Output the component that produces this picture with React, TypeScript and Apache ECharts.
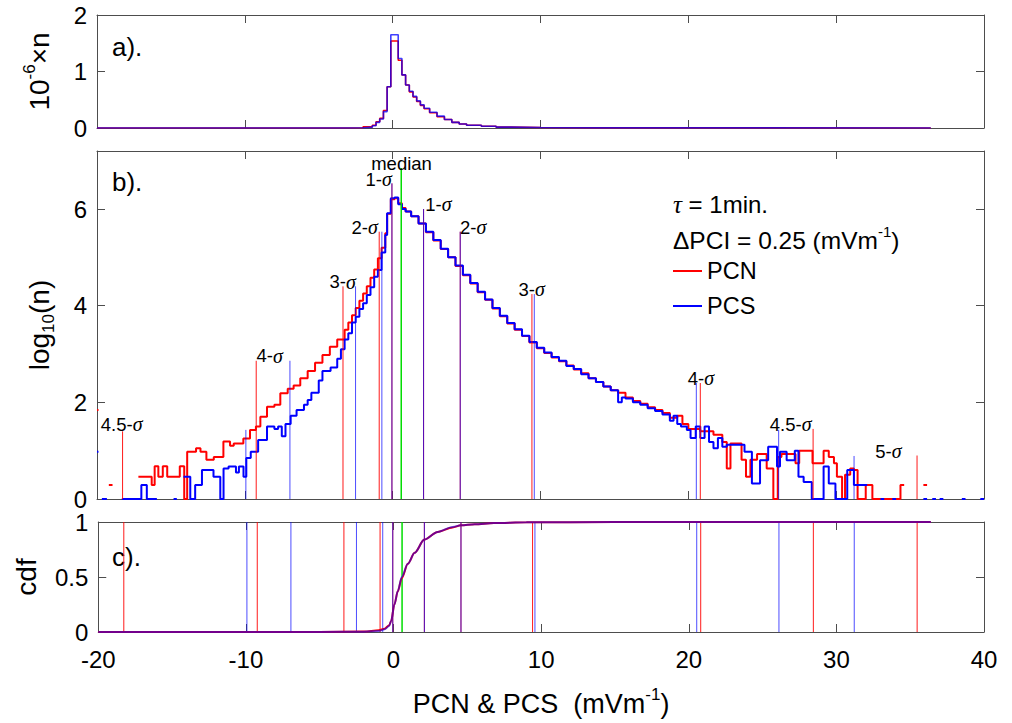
import React, { useEffect, useRef } from 'react';
import * as echarts from 'echarts';

const FONT = "'Liberation Sans', Arial, Helvetica, sans-serif";
const GREEK = "'Liberation Serif', 'DejaVu Serif', serif";
const RED = '#ff0000';
const BLUE = '#0000ff';
const GREEN = '#00dd00';
const AXIS = '#4d4d4d';
const TXT = '#000000';

// x axis
const xMin = -20;
const xMax = 40;
const xStep = 10;

// ---- panel a: 10^-6 x n (bin left edge, value); null = end / gap
const pcnLinBins: [number, number | null][] = [
  [-20, 0], [-3.0, 0.005], [-2.0, 0.02], [-1.375, 0.05], [-1.125, 0.11], [-0.875, 0.17],
  [-0.625, 0.31], [-0.375, 0.73], [-0.125, 1.54], [0.375, 1.2], [0.625, 0.94], [0.875, 0.76],
  [1.125, 0.64], [1.375, 0.55], [1.625, 0.47], [1.875, 0.4], [2.125, 0.34], [2.5, 0.27],
  [3.0, 0.2], [3.5, 0.15], [4.0, 0.1], [4.5, 0.07], [5.0, 0.05], [6.0, 0.03], [7.0, 0.015],
  [8.0, 0.008], [10.0, 0.003], [14.0, 0], [36.4, null],
];
const pcsLinBins: [number, number | null][] = [
  [-20, 0], [-3.0, 0.004], [-2.0, 0.015], [-1.375, 0.04], [-1.125, 0.1], [-0.875, 0.16],
  [-0.625, 0.29], [-0.375, 0.73], [-0.125, 1.65], [0.375, 1.23], [0.625, 0.94], [0.875, 0.76],
  [1.125, 0.65], [1.375, 0.56], [1.625, 0.48], [1.875, 0.41], [2.125, 0.35], [2.5, 0.28],
  [3.0, 0.21], [3.5, 0.15], [4.0, 0.1], [4.5, 0.07], [5.0, 0.05], [6.0, 0.03], [7.0, 0.015],
  [8.0, 0.008], [10.0, 0.003], [14.0, 0], [36.4, null],
];

// ---- panel b: log10(n) (bin left edge, value); null = end / gap
const pcnLogBins: [number, number | null][] = [
  [-20.0, 1.84], [-19.9, null],
  [-19.2, 0.29], [-18.95, null],
  [-17.2, 0.46], [-16.3, 0.29], [-16.1, 0.68], [-15.85, 0.46], [-15.55, 0.68], [-15.25, 0.46],
  [-14.4, 0.68], [-14.1, 0], [-13.9, 0.98], [-13.3, 1.05], [-13.0, 0.98], [-12.6, 0.81],
  [-12.1, 0.87], [-11.45, 1.19], [-11.0, 1.1], [-10.75, 1.15], [-10.1, 1.25], [-9.65, 1.43],
  [-9.25, 1.5], [-8.95, 1.7], [-8.5, 1.91], [-8.0, 1.95], [-7.6, 2.19], [-7.1, 2.28],
  [-6.7, 2.35], [-6.25, 2.5], [-5.75, 2.65], [-5.25, 2.82], [-4.75, 2.98], [-4.25, 3.15],
  [-3.75, 3.3], [-3.25, 3.5], [-3.0, 3.65], [-2.75, 3.8], [-2.5, 3.95], [-2.25, 4.1],
  [-2.0, 4.25], [-1.75, 4.4], [-1.5, 4.58], [-1.25, 4.75], [-1.0, 4.98], [-0.75, 5.2],
  [-0.5, 5.5], [-0.375, 5.9], [-0.125, 6.2], [0.125, 6.22], [0.375, 6.12], [0.625, 6.02],
  [0.875, 5.95], [1.25, 5.85], [1.75, 5.7], [2.25, 5.52], [2.75, 5.35], [3.25, 5.17],
  [3.75, 5.0], [4.25, 4.82], [4.75, 4.63], [5.25, 4.46], [5.75, 4.28], [6.25, 4.12],
  [6.75, 3.94], [7.25, 3.78], [7.75, 3.63], [8.25, 3.5], [8.75, 3.37], [9.25, 3.24],
  [9.75, 3.12], [10.25, 3.02], [10.75, 2.93], [11.25, 2.85], [11.75, 2.76], [12.25, 2.68],
  [12.75, 2.6], [13.25, 2.5], [13.75, 2.42], [14.25, 2.33], [14.75, 2.25], [15.25, 2.2],
  [15.75, 2.1], [16.25, 2.03], [16.75, 1.97], [17.25, 1.9], [17.75, 1.84], [18.25, 1.78],
  [18.75, 1.68], [19.25, 1.72], [19.6, 1.55], [20.0, 1.45], [20.8, 1.4], [21.7, 1.33],
  [22.3, 1.18], [22.6, 0.63], [22.85, 1.15], [23.6, 0.81], [23.9, 0.46], [24.2, 0.81],
  [24.65, 0.93], [25.3, 0.63], [25.75, 0], [26.05, 0.87], [26.3, 0.93], [27.25, 0.74],
  [27.5, 1.0], [28.4, 0.74], [29.15, 1.0], [29.5, 0.87], [29.85, 0.74], [30.05, 0.46],
  [30.4, 0], [30.6, 0.5], [30.95, 0.63], [31.2, 0.6], [31.45, 0], [32.0, 0.29], [32.45, 0],
  [34.35, 0.29], [34.6, null],
  [35.9, 0.29], [36.15, null],
];
const pcsLogBins: [number, number | null][] = [
  [-20.0, 0.98], [-19.9, null],
  [-19.67, 0], [-19.33, null],
  [-18.32, 0], [-17.0, 0.29], [-16.63, 0], [-15.95, null],
  [-14.82, 0], [-14.6, null],
  [-14.15, 0.46], [-13.69, 0], [-13.36, 0.29], [-12.9, 0.6], [-12.12, 0.46], [-11.66, 0],
  [-11.44, 0.63], [-11.1, 0.67], [-10.6, 0.55], [-10.4, 0.67], [-10.09, 0.46], [-9.9, 0.85],
  [-9.6, 0.98], [-9.1, 1.22], [-8.5, 1.5], [-8.0, 1.45], [-7.75, 1.5], [-7.5, 1.3],
  [-7.25, 1.55], [-6.9, 1.72], [-6.5, 1.84], [-6.0, 1.95], [-5.75, 2.05], [-5.5, 2.2],
  [-5.0, 2.45], [-4.75, 2.65], [-4.2, 2.72], [-3.75, 2.9], [-3.5, 3.1], [-3.25, 3.3],
  [-3.0, 3.43], [-2.75, 3.65], [-2.5, 3.77], [-2.25, 3.93], [-2.0, 4.05], [-1.75, 4.22],
  [-1.5, 4.38], [-1.25, 4.6], [-1.0, 4.74], [-0.75, 5.1], [-0.5, 5.46], [-0.375, 5.91],
  [-0.125, 6.22], [0.125, 6.24], [0.375, 6.1], [0.625, 6.0], [0.875, 5.95], [1.25, 5.85],
  [1.75, 5.7], [2.25, 5.53], [2.75, 5.36], [3.25, 5.18], [3.75, 5.0], [4.25, 4.83],
  [4.75, 4.64], [5.25, 4.47], [5.75, 4.29], [6.25, 4.13], [6.75, 3.95], [7.25, 3.79],
  [7.75, 3.64], [8.25, 3.51], [8.75, 3.38], [9.25, 3.25], [9.75, 3.13], [10.25, 3.03],
  [10.75, 2.94], [11.25, 2.86], [11.75, 2.75], [12.25, 2.69], [12.75, 2.58], [13.25, 2.5],
  [13.75, 2.42], [14.25, 2.33], [14.75, 2.25], [15.25, 2.0], [15.5, 2.1], [15.75, 2.08],
  [16.25, 2.0], [16.75, 1.95], [17.25, 1.88], [17.75, 1.82], [18.25, 1.75], [18.75, 1.62],
  [19.0, 1.72], [19.25, 1.55], [19.5, 1.5], [19.9, 1.43], [20.15, 1.26], [20.5, 1.5],
  [20.81, 1.26], [21.1, 1.5], [21.4, 1.18], [21.7, 1.05], [22.0, 1.26], [22.3, 1.08],
  [22.6, 1.12], [23.8, 0.98], [24.3, 0.32], [24.85, 0.8], [25.4, 1.08], [26.0, 0.67],
  [26.2, 0.98], [26.65, 0.8], [27.2, 1.0], [27.45, 0.46], [27.8, 0.35], [28.35, 0],
  [29.15, 0.67], [29.5, 0.32], [29.95, 0], [30.75, 0.6], [31.2, 0.29], [32.1, null],
  [33.0, 0], [33.25, null], [33.8, 0], [34.05, null], [35.9, 0], [36.15, null],
  [36.5, 0], [36.75, null], [37.0, 0], [37.25, null], [38.5, 0], [38.75, null],
  [39.75, 0], [40.0, null],
];

// sigma markers (x, height in panel b)
const pcnSigmaX = [-18.27, -9.23, -3.36, -0.91, -0.05, 2.09, 4.57, 9.42, 20.81, 28.44, 35.47];
const pcnSigmaH = [1.4, 2.86, 4.4, 5.53, 6.53, 6.0, 5.53, 4.24, 2.4, 1.45, 0.9];
const pcsSigmaX = [-9.93, -6.95, -2.51, -0.73, -0.05, 2.09, 4.57, 9.58, 20.54, 26.11, 31.21];
const pcsSigmaH = [1.43, 2.86, 4.4, 5.53, 6.53, 6.0, 5.53, 4.24, 2.4, 1.43, 0.89];
const medianX = [0.58];
const medianH = [6.85];

const sigmaLabelText = ['4.5-σ', '4-σ', '3-σ', '2-σ', '1-σ', 'median', '1-σ', '2-σ', '3-σ', '4-σ', '4.5-σ', '5-σ'];
const sigmaLabelX = [-18.33, -8.32, -3.38, -1.89, -0.95, 0.6, 3.09, 5.45, 9.4, 20.85, 26.92, 33.53];
const sigmaLabelY = [1.55, 2.96, 4.5, 5.62, 6.62, 6.95, 6.1, 5.62, 4.34, 2.5, 1.55, 0.99];

// ---- panel c: cdf
const cdfX = [-20, -5, -2, -1.0, -0.6, -0.3, -0.16, 0.06, 0.29, 0.56, 0.97, 1.43, 2.09, 2.99, 4.0, 4.57, 5.5, 6.8, 9.0, 15, 36.4];
const pcnCdf = [0, 0.001, 0.005, 0.015, 0.03, 0.06, 0.1, 0.25, 0.37, 0.49, 0.62, 0.72, 0.84, 0.91, 0.95, 0.97, 0.98, 0.99, 0.997, 1.0, 1.0];
const pcsCdf = [0, 0.0005, 0.003, 0.01, 0.025, 0.055, 0.1, 0.25, 0.37, 0.5, 0.62, 0.72, 0.84, 0.91, 0.955, 0.97, 0.98, 0.99, 0.997, 1.0, 1.0];

function stairs(bins: [number, number | null][]) {
  const out: any[] = [];
  for (let i = 0; i < bins.length - 1; i++) {
    const x0 = bins[i][0];
    const v = bins[i][1];
    const x1 = bins[i + 1][0];
    if (v === null) continue;
    out.push([x0, v], [x1, v]);
    if (bins[i + 1][1] === null) out.push([x1, '-']);
  }
  return out;
}

function vlines(xs: number[], hs: number[], color: string, xi: number, yi: number, opacity = 1, width = 1) {
  return {
    type: 'custom',
    xAxisIndex: xi,
    yAxisIndex: yi,
    silent: true,
    z: 5,
    data: xs.map((x, k) => [x, hs[k]]),
    renderItem: (_p: any, api: any) => {
      const p0 = api.coord([api.value(0), 0]);
      const p1 = api.coord([api.value(0), api.value(1)]);
      return {
        type: 'line',
        shape: { x1: p0[0], y1: p0[1], x2: p1[0], y2: p1[1] },
        style: { stroke: color, lineWidth: width, opacity },
      };
    },
  };
}

const grids = [
  { left: 97, top: 15, width: 887, height: 113 },
  { left: 97, top: 151, width: 887, height: 348 },
  { left: 97, top: 522, width: 887, height: 113 },
];

const NAME_SIZE = 28;
const supRich = { sup: { fontSize: 17, verticalAlign: 'top', fontFamily: FONT, color: TXT } };
const subRich = { sub: { fontSize: 17, verticalAlign: 'bottom', fontFamily: FONT, color: TXT } };

function xAxes() {
  const axes: any[] = [];
  for (let g = 0; g < 3; g++) {
    for (const pos of ['bottom', 'top']) {
      const labelled = g === 2 && pos === 'bottom';
      axes.push({
        type: 'value',
        gridIndex: g,
        position: pos,
        min: xMin,
        max: xMax,
        interval: xStep,
        axisLine: { show: true, onZero: false, lineStyle: { color: AXIS, width: 1 } },
        axisTick: { show: true, inside: true, length: 8, lineStyle: { color: AXIS, width: 1 } },
        axisLabel: { show: labelled, fontSize: 24, fontFamily: FONT, color: TXT, margin: 15 },
        splitLine: { show: false },
        name: labelled ? 'PCN & PCS \u00a0(mVm{sup|-1})' : '',
        nameLocation: 'middle',
        nameGap: 54,
        nameTextStyle: { fontSize: 27, fontFamily: FONT, color: TXT, lineHeight: 36, rich: supRich },
      });
    }
  }
  return axes;
}

function yAxes() {
  const specs = [
    { min: 0, max: 2, interval: 1, name: '10{sup|-6}×n', rich: supRich },
    { min: 0, max: 7.2, interval: 2, name: 'log{sub|10}(n)', rich: subRich },
    { min: 0, max: 1, interval: 0.5, name: 'cdf', rich: {} },
  ];
  const axes: any[] = [];
  specs.forEach((s, g) => {
    for (const pos of ['left', 'right']) {
      const labelled = pos === 'left';
      axes.push({
        type: 'value',
        gridIndex: g,
        position: pos,
        min: s.min,
        max: s.max,
        interval: s.interval,
        axisLine: { show: true, onZero: false, lineStyle: { color: AXIS, width: 1 } },
        axisTick: { show: true, inside: true, length: 8, lineStyle: { color: AXIS, width: 1 } },
        axisLabel: {
          show: labelled,
          fontSize: 24,
          fontFamily: FONT,
          color: TXT,
          margin: 10,
          showMaxLabel: g === 1 ? false : undefined,
          formatter: (v: number) => (Math.abs(v / s.interval - Math.round(v / s.interval)) < 1e-6 ? String(v) : ''),
        },
        splitLine: { show: false },
        name: labelled ? s.name : '',
        nameLocation: 'middle',
        nameRotate: 90,
        nameGap: 40,
        nameTextStyle: { fontSize: NAME_SIZE, fontFamily: FONT, color: TXT, lineHeight: 36, rich: s.rich },
      });
    }
  });
  return axes;
}

function greek(t: string) {
  return t.replace(/σ/g, '{s|σ}');
}

export default function App() {
  const ref = useRef<HTMLDivElement>(null);
  useEffect(() => {
    if (!ref.current) return;
    const chart = echarts.init(ref.current, null, { renderer: 'svg' });
    const ones = (a: number[]) => a.map(() => 1);
    const option: any = {
      animation: false,
      backgroundColor: '#ffffff',
      grid: grids,
      xAxis: xAxes(),
      yAxis: yAxes(),
      legend: {
        data: ['PCN', 'PCS'],
        orient: 'vertical',
        left: 673,
        top: 257,
        padding: 0,
        itemGap: 7,
        itemWidth: 29,
        itemHeight: 2,
        icon: 'rect',
        selectedMode: false,
        textStyle: { fontSize: 23.5, fontFamily: FONT, color: TXT, lineHeight: 28, padding: [0, 0, 0, 0] },
      },
      graphic: [
        { type: 'text', x: 112, y: 47, style: { text: 'a).', fontSize: 26, fontFamily: FONT, fill: TXT, verticalAlign: 'middle' } },
        { type: 'text', x: 112, y: 182, style: { text: 'b).', fontSize: 26, fontFamily: FONT, fill: TXT, verticalAlign: 'middle' } },
        { type: 'text', x: 112, y: 557, style: { text: 'c).', fontSize: 26, fontFamily: FONT, fill: TXT, verticalAlign: 'middle' } },
        {
          type: 'text', x: 673, y: 204,
          style: {
            text: '{g|τ} = 1min.', fontSize: 24, fontFamily: FONT, fill: TXT, verticalAlign: 'middle',
            rich: { g: { fontFamily: GREEK, fontStyle: 'italic', fontSize: 25, fill: TXT } },
          },
        },
        {
          type: 'text', x: 673, y: 240,
          style: {
            text: 'ΔPCI = 0.25 (mVm{sup|-1})', fontSize: 24.5, fontFamily: FONT, fill: TXT, verticalAlign: 'middle', lineHeight: 32,
            rich: { sup: { fontSize: 15, verticalAlign: 'top', fontFamily: FONT, fill: TXT } },
          },
        },
      ],
      series: [
        // panel a
        { type: 'line', xAxisIndex: 0, yAxisIndex: 0, data: stairs(pcnLinBins), showSymbol: false, symbol: 'none', lineStyle: { color: RED, width: 1.6 }, itemStyle: { color: RED }, silent: true },
        { type: 'line', xAxisIndex: 0, yAxisIndex: 0, data: stairs(pcsLinBins), showSymbol: false, symbol: 'none', lineStyle: { color: BLUE, width: 1.6, opacity: 0.75 }, itemStyle: { color: BLUE }, silent: true },
        // panel b
        { name: 'PCN', type: 'line', xAxisIndex: 2, yAxisIndex: 2, data: stairs(pcnLogBins), showSymbol: false, symbol: 'none', lineStyle: { color: RED, width: 2 }, itemStyle: { color: RED }, silent: true, z: 2 },
        { name: 'PCS', type: 'line', xAxisIndex: 2, yAxisIndex: 2, data: stairs(pcsLogBins), showSymbol: false, symbol: 'none', lineStyle: { color: BLUE, width: 2 }, itemStyle: { color: BLUE }, silent: true, z: 3 },
        vlines(pcnSigmaX, pcnSigmaH, RED, 2, 2, 0.9, 1),
        vlines(pcsSigmaX, pcsSigmaH, BLUE, 2, 2, 0.7, 1),
        vlines(medianX, medianH, GREEN, 2, 2, 1, 1.5),
        {
          type: 'scatter', xAxisIndex: 2, yAxisIndex: 2, symbolSize: 1, silent: true, z: 6,
          itemStyle: { color: 'rgba(255,255,255,0)' },
          data: sigmaLabelX.map((x, k) => ({ value: [x, sigmaLabelY[k]], name: sigmaLabelText[k] })),
          label: {
            show: true, position: 'inside', fontSize: 18.5, fontFamily: FONT, color: TXT, opacity: 1,
            textBorderWidth: 0, textBorderColor: 'transparent',
            formatter: (p: any) => greek(p.name),
            rich: { s: { fontFamily: GREEK, fontStyle: 'italic', fontSize: 20, color: TXT, textBorderWidth: 0 } },
          },
        },
        // panel c
        vlines(pcnSigmaX, ones(pcnSigmaX), RED, 4, 4, 0.9, 1),
        vlines(pcsSigmaX, ones(pcsSigmaX), BLUE, 4, 4, 0.7, 1),
        vlines(medianX, ones(medianX), GREEN, 4, 4, 1, 1.5),
        { type: 'line', xAxisIndex: 4, yAxisIndex: 4, data: cdfX.map((x, k) => [x, pcnCdf[k]]), showSymbol: false, symbol: 'none', smooth: 0.3, smoothMonotone: 'x', lineStyle: { color: RED, width: 2 }, silent: true, z: 7 },
        { type: 'line', xAxisIndex: 4, yAxisIndex: 4, data: cdfX.map((x, k) => [x, pcsCdf[k]]), showSymbol: false, symbol: 'none', smooth: 0.3, smoothMonotone: 'x', lineStyle: { color: BLUE, width: 2, opacity: 0.55 }, silent: true, z: 8 },
      ],
    };
    chart.setOption(option);
    return () => chart.dispose();
  }, []);
  return (
    <div
      ref={ref}
      style={{ position: 'fixed', left: 0, top: 0, width: 1012, height: 723, background: '#fff' }}
    />
  );
}
